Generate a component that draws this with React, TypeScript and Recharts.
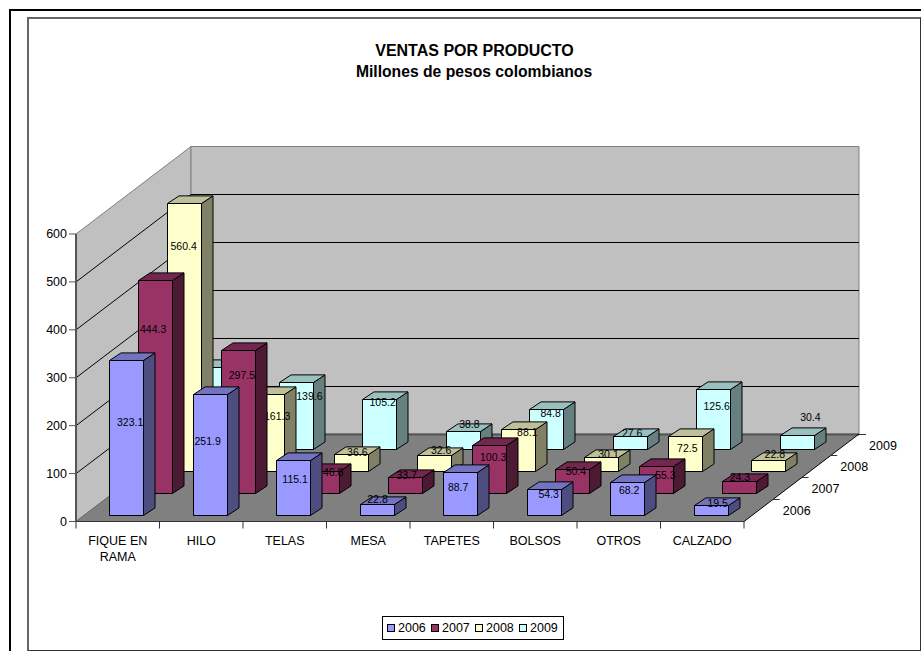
import React from 'react'
import { Bar, BarChart, Legend, ReferenceArea, ReferenceLine, XAxis, YAxis } from 'recharts'

const categories = ['FIQUE EN RAMA', 'HILO', 'TELAS', 'MESA', 'TAPETES', 'BOLSOS', 'OTROS', 'CALZADO']
const years = ['2006', '2007', '2008', '2009']

const ventas2006 = [323.1, 251.9, 115.1, 22.8, 88.7, 54.3, 68.2, 19.5]
const ventas2007 = [444.3, 297.5, 46.8, 33.7, 100.3, 50.4, 55.3, 24.3]
const ventas2008 = [560.4, 161.3, 36.6, 32.6, 88.1, 30.1, 72.5, 22.8]
const ventas2009 = [172, 139.6, 105.2, 38.8, 84.8, 27.6, 125.6, 30.4]
const yTicks = [0, 100, 200, 300, 400, 500, 600]

const ventasByYear: Record<string, number[]> = {
  '2006': ventas2006,
  '2007': ventas2007,
  '2008': ventas2008,
  '2009': ventas2009,
}

const chartData = categories.map((name, i) => ({
  name,
  2006: ventas2006[i],
  2007: ventas2007[i],
  2008: ventas2008[i],
  2009: ventas2009[i],
}))

// front, top and side shades of each year's box
const palette: Record<string, string[]> = {
  '2006': ['#9999ff', '#7373bf', '#4d4d80'],
  '2007': ['#993366', '#732650', '#4d1a33'],
  '2008': ['#ffffcc', '#bfbf99', '#808066'],
  '2009': ['#ccffff', '#99bfbf', '#668080'],
}

// Value labels sit where the 3D projection puts them: [dx, dy] from the top centre of the front face.
// The first 2009 label stays behind the HILO boxes, so it is not drawn.
const labelOffsets: Record<string, ([number, number] | null)[]> = {
  '2006': [[3.6, 61.5], [-2.9, 46.4], [1.6, 18.8], [0, -5.4], [-2.4, 14.2], [4.1, 4.7], [1.6, 7.4], [6.1, -3]],
  '2007': [[-2.4, 48.4], [3.4, 24.1], [10.6, 0.6], [1.1, -3], [3.6, 11.9], [3.4, 1.4], [8.9, 8.1], [0.4, -4.5]],
  '2008': [[-0.9, 42], [9.6, 21.8], [5.8, -3], [6.6, -5.2], [8.8, 2.4], [7, -3.8], [1.8, 11.5], [6.3, -6.3]],
  '2009': [null, [12.9, 13.3], [3.1, 2.8], [5.9, -7.7], [4.1, 3.3], [1.6, -3.1], [3.1, 16.6], [12.9, -18.3]],
}

const FONT = '"Liberation Sans", Arial, sans-serif'
const WIDTH = 921
const HEIGHT = 651
const PLOT_LEFT = 76
const PLOT_RIGHT = 744
const PLOT_TOP = 234
const PLOT_BOTTOM = 521.5

// floor depth from front to back wall, and one year's lane on it
const DEPTH_X = 115
const DEPTH_Y = 87.5
const LANE_X = DEPTH_X / years.length
const LANE_Y = DEPTH_Y / years.length
const BOX_DEPTH_X = 11.5
const BOX_DEPTH_Y = 7.6
const BAR_WIDTH = 34
const BAND = (PLOT_RIGHT - PLOT_LEFT) / categories.length

const crisp = (v: number) => Math.round(v - 0.5) + 0.5
const pts = (list: number[][]) => list.map((p) => p.join(',')).join(' ')

const BoxBar = (props: any) => {
  const { x, y, width, height, index, year, lane } = props
  const [front, top, side] = palette[year]
  const left = crisp(x + 8.6 + LANE_X * lane)
  const right = left + width
  const upper = crisp(y - 6.2 - LANE_Y * lane)
  const lower = crisp(y + height - 6.2 - LANE_Y * lane)
  const offset = labelOffsets[year][index]
  return (
    <g stroke="#000" strokeWidth={1} strokeLinejoin="round">
      <polygon
        points={pts([[right, upper], [right + BOX_DEPTH_X, upper - BOX_DEPTH_Y], [right + BOX_DEPTH_X, lower - BOX_DEPTH_Y], [right, lower]])}
        fill={side}
      />
      <polygon
        points={pts([[left, upper], [left + BOX_DEPTH_X, upper - BOX_DEPTH_Y], [right + BOX_DEPTH_X, upper - BOX_DEPTH_Y], [right, upper]])}
        fill={top}
      />
      <rect x={left} y={upper} width={width} height={lower - upper} fill={front} />
      {offset && (
        <text
          x={left + width / 2 + offset[0]}
          y={upper + offset[1]}
          textAnchor="middle"
          dominantBaseline="central"
          stroke="none"
          fill="#000"
          fontFamily={FONT}
          fontSize={10.5}
        >
          {ventasByYear[year][index]}
        </text>
      )}
    </g>
  )
}

// Walls, floor, titles and the depth axis, all hung off the plot rectangle
const Backdrop = (props: any) => {
  const { x, y, width, height } = props
  const bottom = y + height
  const right = x + width
  const backX = x + DEPTH_X
  const backTop = y - DEPTH_Y
  const backBottom = bottom - DEPTH_Y
  return (
    <g>
      <polygon points={pts([[x, bottom], [x, y], [backX, backTop], [backX, backBottom]])} fill="#c0c0c0" stroke="#808080" />
      <polygon
        points={pts([[backX, backTop], [right + DEPTH_X, backTop], [right + DEPTH_X, backBottom], [backX, backBottom]])}
        fill="#c0c0c0"
        stroke="#808080"
      />
      <polygon points={pts([[x, bottom], [right, bottom], [right + DEPTH_X, backBottom], [backX, backBottom]])} fill="#808080" stroke="none" />
      <line x1={backX} y1={crisp(backBottom)} x2={right + DEPTH_X} y2={crisp(backBottom)} stroke="#555" strokeWidth={2} />
      <line x1={x} y1={bottom} x2={backX} y2={backBottom} stroke="#666" />
      <line x1={right} y1={bottom} x2={right + DEPTH_X} y2={backBottom} stroke="#000" />
      {years.map((year, i) => {
        const tx = right + LANE_X * (i + 1)
        const ty = crisp(bottom - LANE_Y * (i + 1))
        return (
          <g key={year}>
            <line x1={tx} y1={ty} x2={tx + 7} y2={ty} stroke="#333" />
            <text x={tx + 24} y={ty + 11} textAnchor="middle" dominantBaseline="central" fontFamily={FONT} fontSize={12.5} fill="#000">
              {year}
            </text>
          </g>
        )
      })}
      <text x={474.5} y={50} textAnchor="middle" dominantBaseline="central" fontFamily={FONT} fontSize={16} fontWeight="bold" fill="#000">
        VENTAS POR PRODUCTO
      </text>
      <text x={474} y={71} textAnchor="middle" dominantBaseline="central" fontFamily={FONT} fontSize={15.7} fontWeight="bold" fill="#000">
        Millones de pesos colombianos
      </text>
    </g>
  )
}

// Gridline running up the left wall and then along the back wall
const WallGridLine = (props: any) => {
  const { x1, y1, x2 } = props
  const back = y1 - DEPTH_Y
  return (
    <polyline
      points={pts([[x1, y1], [x1 + DEPTH_X, crisp(back)], [x2 + DEPTH_X, crisp(back)]])}
      fill="none"
      stroke="#000"
      strokeWidth={1}
    />
  )
}

// Category ticks fall on the band edges, with the name under the band centre
const CategoryTick = (props: any) => {
  const { x, y, payload, index } = props
  const words: string[] = payload.value === 'FIQUE EN RAMA' ? ['FIQUE EN', 'RAMA'] : [payload.value]
  const edge = x - BAND / 2
  return (
    <g>
      <line x1={edge} y1={PLOT_BOTTOM} x2={edge} y2={PLOT_BOTTOM + 7} stroke="#333" />
      {index === categories.length - 1 && (
        <line x1={edge + BAND} y1={PLOT_BOTTOM} x2={edge + BAND} y2={PLOT_BOTTOM + 7} stroke="#333" />
      )}
      {words.map((word, i) => (
        <text key={word} x={x} y={y + 11 + i * 16.7} textAnchor="middle" dominantBaseline="central" fontFamily={FONT} fontSize={12.5} fill="#000">
          {word}
        </text>
      ))}
    </g>
  )
}

const YearLegend = () => (
  <div
    style={{
      boxSizing: 'border-box',
      width: 182,
      height: 24,
      border: '1px solid #000',
      display: 'flex',
      alignItems: 'center',
      paddingLeft: 4,
      fontFamily: FONT,
      fontSize: 12.5,
      background: '#fff',
    }}
  >
    {years.map((year) => (
      <div key={year} style={{ display: 'flex', alignItems: 'center', width: 44.3 }}>
        <span
          style={{
            boxSizing: 'border-box',
            width: 8,
            height: 8,
            marginRight: 3,
            border: '1px solid #000',
            background: palette[year][0],
          }}
        />
        {year}
      </div>
    ))}
  </div>
)

export default function App() {
  return (
    <div style={{ position: 'absolute', left: 0, top: 0, width: WIDTH, height: HEIGHT, overflow: 'hidden', background: '#fff' }}>
      <div style={{ position: 'absolute', left: 9, top: 9, width: 1000, height: 800, borderLeft: '2px solid #000', borderTop: '2px solid #000' }} />
      <div
        style={{
          position: 'absolute',
          boxSizing: 'border-box',
          left: 27,
          top: 17,
          width: 894,
          height: 634,
          borderLeft: '2px solid #666',
          borderTop: '2px solid #666',
          borderRight: '1px solid #333',
          borderBottom: '1px solid #333',
        }}
      />
      <BarChart
        width={WIDTH}
        height={HEIGHT}
        data={chartData}
        barSize={BAR_WIDTH}
        barGap={-BAR_WIDTH}
        margin={{ top: PLOT_TOP, right: WIDTH - PLOT_RIGHT, bottom: HEIGHT - PLOT_BOTTOM - 30, left: PLOT_LEFT - 40 }}
        style={{ position: 'absolute', left: 0, top: 0 }}
      >
        <ReferenceArea y1={0} y2={600} shape={Backdrop} zIndex={-500} />
        {yTicks.slice(1, -1).map((tick) => (
          <ReferenceLine key={tick} y={tick} shape={WallGridLine} zIndex={-400} />
        ))}
        <XAxis dataKey="name" height={30} axisLine={{ stroke: '#333' }} tickLine={false} tick={CategoryTick} interval={0} />
        <YAxis
          width={40}
          domain={[0, 600]}
          ticks={yTicks}
          tickSize={7}
          tickMargin={2}
          axisLine={{ stroke: '#555', strokeWidth: 2 }}
          tickLine={{ stroke: '#555' }}
          tick={{ fill: '#000', fontFamily: FONT, fontSize: 12.5 }}
        />
        {/* Back lane first, so nearer years cover it */}
        {[...years].reverse().map((year) => (
          <Bar
            key={year}
            dataKey={year}
            isAnimationActive={false}
            shape={(p: any) => <BoxBar {...p} year={year} lane={years.indexOf(year)} />}
          />
        ))}
        <Legend
          layout="horizontal"
          align="center"
          verticalAlign="middle"
          content={YearLegend}
          wrapperStyle={{ left: 382, top: 616, width: 182, height: 24 }}
        />
      </BarChart>
    </div>
  )
}
